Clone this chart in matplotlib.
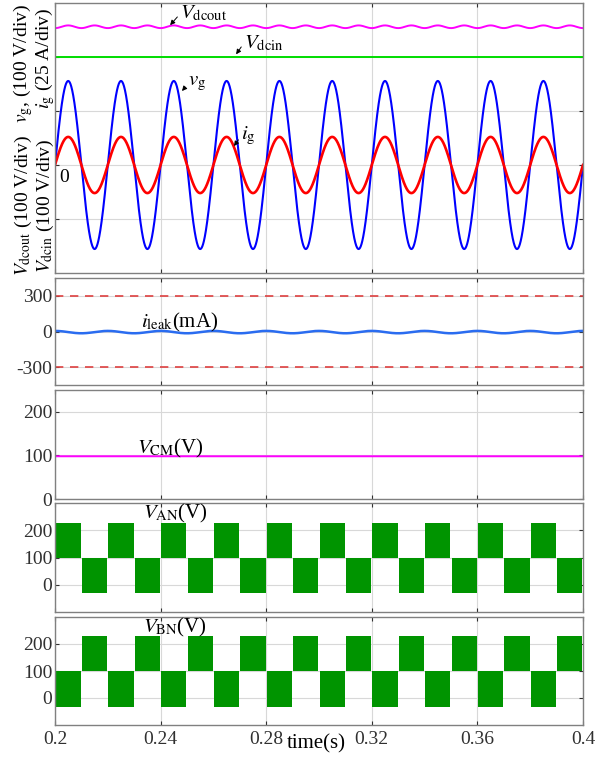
# Formes d'onde : tensions DC, reseau, courant de fuite, mode commun, VAN/VBN

import numpy as np
import matplotlib.pyplot as plt

plt.rcParams['font.family'] = ['Liberation Serif', 'DejaVu Serif']
plt.rcParams['mathtext.fontset'] = 'stix'
plt.rcParams['axes.unicode_minus'] = False

# Valeurs
f_grid = 50.0            # Hz
vg_peak = 155.6          # V
ig_peak = 13.0           # A
vdcin = 200.0            # V
vdcout_mean = 256.0      # V
vdcout_ripple = 2.5      # V (a 100 Hz)
ileak_mean = -5.0        # mA
ileak_ripple = 10.0      # mA
vcm_level = 98.0         # V
ileak_limit = [300, -300]

# niveaux des blocs VAN / VBN (une demi-periode chacun)
half_start = [0.20 + 0.01 * k for k in range(20)]
van_low = [100, -32] * 10
van_high = [228, 100] * 10
vbn_low = [-32, 100] * 10
vbn_high = [100, 228] * 10

xticks = [0.2, 0.24, 0.28, 0.32, 0.36, 0.4]
xticklabels = ['0.2', '0.24', '0.28', '0.32', '0.36', '0.4']

t = np.linspace(0.2, 0.4, 4001)
w = 2 * np.pi * f_grid
vg = vg_peak * np.sin(w * (t - 0.2))
ig = ig_peak * np.sin(w * (t - 0.2))
vdout = vdcout_mean - vdcout_ripple * np.cos(2 * w * (t - 0.2))
vdin = np.full_like(t, vdcin)
ileak = ileak_mean + ileak_ripple * np.cos(w * (t - 0.2))
vcm = np.full_like(t, vcm_level)

fig = plt.figure(figsize=(6.08, 7.58), dpi=100)
W, H = 608.0, 758.0
x0, x1 = 55, 583
def make_ax(top, bot):
    return fig.add_axes([x0 / W, 1 - bot / H, (x1 - x0) / W, (bot - top) / H])

ax1 = make_ax(3, 273)
ax2 = make_ax(278, 385)
ax3 = make_ax(390, 499)
ax4 = make_ax(503, 612)
ax5 = make_ax(617, 725)
axes = [ax1, ax2, ax3, ax4, ax5]

for ax in axes:
    ax.set_xlim(0.2, 0.4)
    ax.set_xticks(xticks)
    ax.set_xticklabels([])
    ax.grid(True, color='#d8d8d8', lw=0.8)
    ax.set_axisbelow(True)
    ax.tick_params(direction='in', length=3, pad=2, labelsize=14,
                   colors='#303030', top=True, right=True)
    for s in ax.spines.values():
        s.set_color('#808080')
        s.set_linewidth(1.0)

# --- panneau 1 (en divisions) ---
ax1.plot(t, vdout / 100, color='#ff00ff', lw=1.4)
ax1.plot(t, vdin / 100, color='#00dd00', lw=1.4)
ax1.plot(t, vg / 100, color='#0000ff', lw=1.5)
ax1.plot(t, ig / 25, color='#ff0000', lw=1.9)
ax1.set_ylim(-2, 3)
ax1.set_yticks([-1, 0, 1, 2])
ax1.set_yticklabels([])
ax1.text(0.2015, -0.08, '0', fontsize=14, ha='left', va='top')

arr = dict(arrowstyle='-|>', color='k', lw=0.7, mutation_scale=7,
           shrinkA=0, shrinkB=0, relpos=(0, 0.5))
ax1.annotate(r'$V_{\mathrm{dcout}}$', xy=(0.2436, 2.59), xytext=(0.2474, 2.80),
             fontsize=15, va='center', arrowprops=arr)
ax1.annotate(r'$V_{\mathrm{dcin}}$', xy=(0.2686, 2.05), xytext=(0.2716, 2.26),
             fontsize=15, va='center', arrowprops=arr)
ax1.annotate(r'$v_{\mathrm{g}}$', xy=(0.2481, 1.37), xytext=(0.2504, 1.50),
             fontsize=15, va='center', arrowprops=arr)
ax1.annotate(r'$i_{\mathrm{g}}$', xy=(0.2678, 0.35), xytext=(0.2705, 0.54),
             fontsize=15, va='center', arrowprops=arr)

# etiquettes verticales a gauche (deux colonnes)
fig.text(23 / W, 1 - 64 / H, r'$v_{\mathrm{g}}$, (100 V/div)', rotation=90,
         fontsize=14, ha='center', va='center')
fig.text(45 / W, 1 - 58 / H, r'$i_{\mathrm{g}}$ (25 A/div)', rotation=90,
         fontsize=14, ha='center', va='center')
fig.text(23 / W, 1 - 206 / H, r'$V_{\mathrm{dcout}}$ (100 V/div)', rotation=90,
         fontsize=14, ha='center', va='center')
fig.text(45 / W, 1 - 206 / H, r'$V_{\mathrm{dcin}}$ (100 V/div)', rotation=90,
         fontsize=14, ha='center', va='center')

# --- panneau 2 : courant de fuite ---
for lim in ileak_limit:
    ax2.axhline(lim, color='#dd4040', lw=1.2, ls=(0, (5, 4)))
ax2.plot(t, ileak, color='#2a6cf0', lw=1.8)
ax2.set_ylim(-450, 450)
ax2.set_yticks([-300, 0, 300])
ax2.set_yticklabels(['-300', '0', '300'])
ax2.text(0.2473, 80, r'$i_{\mathrm{leak}}$(mA)', fontsize=15, ha='center', va='center')

# --- panneau 3 : mode commun ---
ax3.plot(t, vcm, color='#ff00ff', lw=1.4)
ax3.set_ylim(0, 250)
ax3.set_yticks([0, 100, 200])
ax3.set_yticklabels(['0', '100', '200'])
ax3.text(0.2435, 117, r'$V_{\mathrm{CM}}$(V)', fontsize=15, ha='center', va='center')

# --- panneaux 4 et 5 : VAN / VBN ---
centers = [s + 0.005 for s in half_start]
ax4.bar(centers, np.array(van_high) - np.array(van_low), width=0.0096,
        bottom=van_low, color='#009400', edgecolor='none')
ax5.bar(centers, np.array(vbn_high) - np.array(vbn_low), width=0.0096,
        bottom=vbn_low, color='#009400', edgecolor='none')
for ax, lab, ty in [(ax4, r'$V_{\mathrm{AN}}$(V)', 262), (ax5, r'$V_{\mathrm{BN}}$(V)', 262)]:
    ax.set_ylim(-100, 300)
    ax.set_yticks([0, 100, 200])
    ax.set_yticklabels(['0', '100', '200'])
    ax.text(0.2455, ty, lab, fontsize=15, ha='center', va='center')

ax5.set_xticklabels(xticklabels)
ax5.tick_params(axis='x', pad=4)
fig.text(316 / W, 1 - 744 / H, 'time(s)', fontsize=15, ha='center', va='center')

fig.savefig('out.png', dpi=100)
